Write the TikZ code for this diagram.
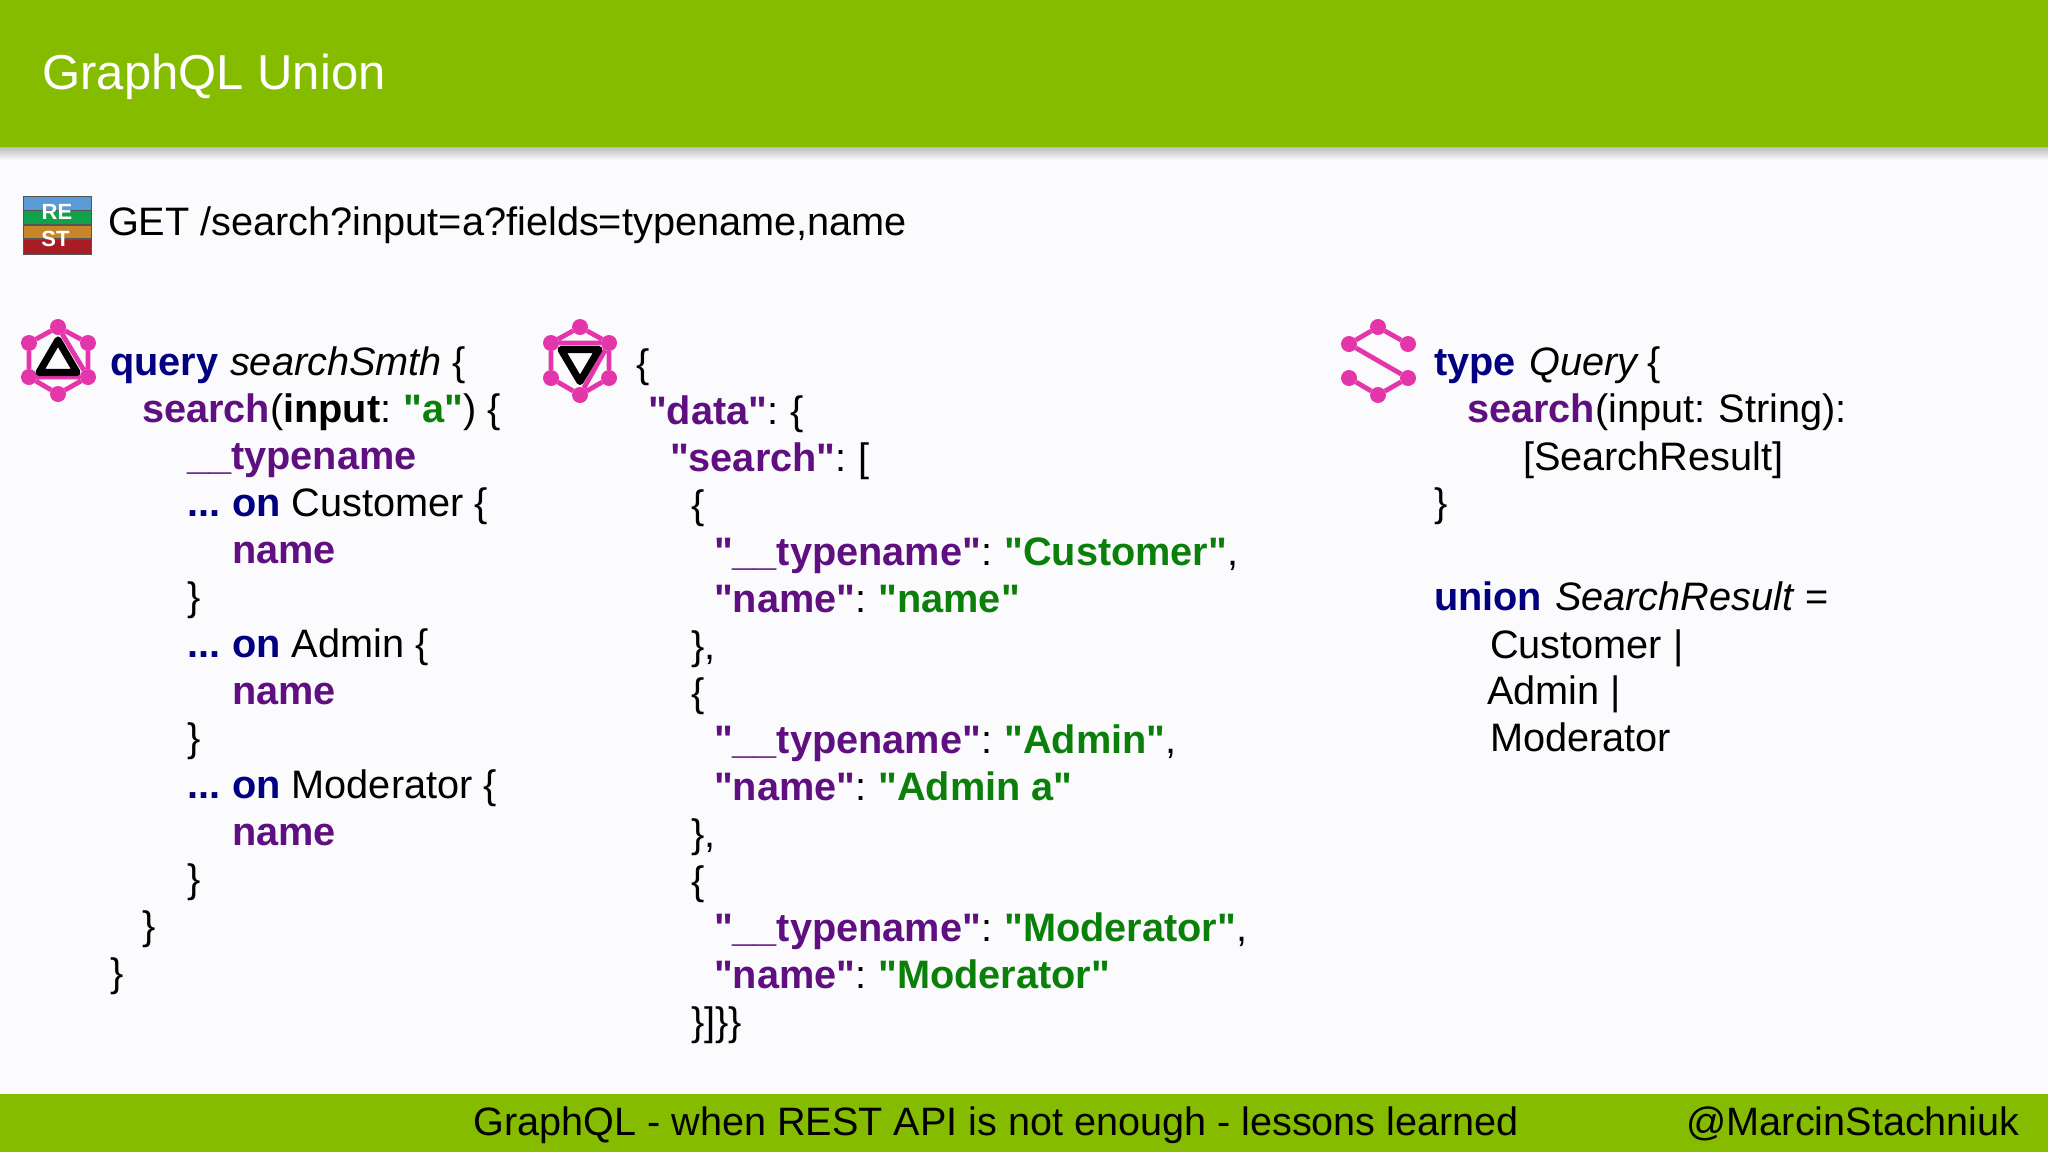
\documentclass[tikz,border=0pt]{standalone}
\usepackage{fontspec}
\newfontfamily\arialfont{Liberation Sans}
\definecolor{bar}{HTML}{86BC00}
\definecolor{paper}{HTML}{FBFBFD}
\definecolor{kw}{HTML}{000080}
\definecolor{fld}{HTML}{5F0F80}
\definecolor{str}{HTML}{0A800A}
\definecolor{gpink}{HTML}{E535AB}
\definecolor{rblue}{HTML}{5B9BD5}
\definecolor{rgreen}{HTML}{12A14B}
\definecolor{rorange}{HTML}{C8862A}
\definecolor{rred}{HTML}{A81C24}
\definecolor{rgray}{HTML}{555555}
\newcommand{\K}[1]{\textbf{\textcolor{kw}{#1}}}
\newcommand{\F}[1]{\textbf{\textcolor{fld}{#1}}}
\newcommand{\Sg}[1]{\textbf{\textcolor{str}{#1}}}
\newcommand{\B}[1]{\textbf{#1}}
\newcommand{\Dots}{\K{...\hspace{-1.3pt} on}}
\newcommand{\Cn}{:\hspace{-1.3pt} }
\newcommand{\cl}[4]{\node[codeline] (#1) at (#2,#3) {#4};}
\tikzset{
 codeline/.style={anchor=base west,inner sep=0pt,outer sep=0pt,font=\arialfont\fontsize{19.85pt}{22pt}\selectfont,text=black},
 gdot/.style={circle,fill=gpink,draw=none,minimum size=8pt,inner sep=0pt,outer sep=0pt},
 gedge/.style={draw=gpink,line width=2.4pt},
 blacktri/.style={draw=black,line width=3.6pt,line join=round,fill=none},
 restlabel/.style={inner sep=0pt,text=white,font=\arialfont\bfseries\fontsize{11pt}{12pt}\selectfont},
}
\begin{document}
\begin{tikzpicture}[x=0.5pt,y=-0.5pt]
\useasboundingbox (0,0) rectangle (2048,1152);
\fill[paper] (0,0) rectangle (2048,1152);
\shade[top color=black!28,bottom color=paper] (0,146) rectangle (2048,160);
\fill[bar] (0,0) rectangle (2048,147);
\fill[bar] (0,1094) rectangle (2048,1152);
\node[anchor=base west,inner sep=0pt,text=white,font=\arialfont\fontsize{24.5pt}{28pt}\selectfont] (title) at (42,89) {GraphQL Union};
\node[anchor=base west,inner sep=0pt,font=\arialfont\fontsize{19.8pt}{22pt}\selectfont] (foot) at (473,1135) {GraphQL - when REST API is not enough - lessons learned};
\node[anchor=base east,inner sep=0pt,font=\arialfont\fontsize{19.8pt}{22pt}\selectfont] (handle) at (2020,1135) {@MarcinStachniuk};
% REST icon
\fill[rgray] (23,196) rectangle (92,255);
\fill[rblue] (24,197) rectangle (91,210);
\fill[rgreen] (24,211) rectangle (91,224);
\fill[rorange] (24,226) rectangle (91,238);
\fill[rred] (24,240) rectangle (91,254);
\node[restlabel] (re) at (57,212) {RE};
\node[restlabel] (st) at (55.5,239) {ST};
\cl{get}{108}{235}{GET /search?input=a?fields=typename,name}
% icon 1
\foreach \n/\x/\y in {a/58/327,b/88/343,c/88/377,d/58/394,e/29/377,f/29/343}{\node[gdot] (q\n) at (\x,\y) {};}
\draw[gedge] (qa)--(qb)--(qc)--(qd)--(qe)--(qf)--(qa) (qa)--(qc)--(qe)--cycle;
\coordinate (qt1) at (58,340); \coordinate (qt2) at (77,372.5); \coordinate (qt3) at (39,372.5);
\draw[blacktri] (qt1)--(qt2)--(qt3)--cycle;
% icon 2
\foreach \n/\x/\y in {a/580/327,b/609/343,c/609/378,d/580/395,e/551/378,f/551/343}{\node[gdot] (r\n) at (\x,\y) {};}
\draw[gedge] (ra)--(rb)--(rc)--(rd)--(re)--(rf)--(ra) (rf)--(rb)--(rd)--cycle;
\coordinate (rt1) at (561,349.5); \coordinate (rt2) at (599,349.5); \coordinate (rt3) at (580,381.5);
\draw[blacktri] (rt1)--(rt2)--(rt3)--cycle;
% icon 3
\foreach \n/\x/\y in {a/1378/327,b/1408/344,c/1408/378,d/1378/395,e/1349/378,f/1349/344}{\node[gdot] (s\n) at (\x,\y) {};}
\draw[gedge] (sb)--(sa)--(sf)--(sc)--(sd)--(se);
% query
\cl{q1}{110}{375}{\K{query}\hspace{0.5pt} \textit{searchSmth} \{}
\cl{q2}{142}{422.5}{\F{search}(\B{input}\Cn\Sg{"a"}) \{}
\cl{q3}{187}{469.5}{\F{\_\_typename}}
\cl{q4}{187}{516.5}{\Dots{} Customer \{}
\cl{q5}{232}{563.5}{\F{name}}
\cl{q6}{187}{610.5}{\}}
\cl{q7}{187}{657.5}{\Dots{} Admin \{}
\cl{q8}{232}{704.5}{\F{name}}
\cl{q9}{187}{751.5}{\}}
\cl{q10}{187}{798.5}{\Dots{} Moderator \{}
\cl{q11}{232}{845.5}{\F{name}}
\cl{q12}{187}{892.5}{\}}
\cl{q13}{142}{939.5}{\}}
\cl{q14}{110}{986.5}{\}}
% response
\cl{d1}{636}{377}{\{}
\cl{d2}{648}{424}{\F{"data"}\Cn\{}
\cl{d3}{670}{471}{\F{"search"}\Cn[}
\cl{d4}{691}{518}{\{}
\cl{d5}{714}{565}{\F{"\_\_typename"}\Cn\Sg{"Customer"},}
\cl{d6}{714}{612}{\F{"name"}\Cn\Sg{"name"}}
\cl{d7}{691}{659}{\},}
\cl{d8}{691}{706}{\{}
\cl{d9}{714}{753}{\F{"\_\_typename"}\Cn\Sg{"Admin"},}
\cl{d10}{714}{800}{\F{"name"}\Cn\Sg{"Admin a"}}
\cl{d11}{691}{847}{\},}
\cl{d12}{691}{894}{\{}
\cl{d13}{714}{941}{\F{"\_\_typename"}\Cn\Sg{"Moderator"},}
\cl{d14}{714}{988}{\F{"name"}\Cn\Sg{"Moderator"}}
\cl{d15}{691}{1035}{\}]\}\}}
% schema
\cl{t1}{1434}{375}{\K{type}\hspace{1.5pt} \textit{Query}\hspace{-1.5pt} \{}
\cl{t2}{1467}{422.5}{\F{search}(input:\hspace{-0.6pt} String):}
\cl{t3}{1523}{470}{[SearchResult]}
\cl{t4}{1434}{516.5}{\}}
\cl{t5}{1434}{610.5}{\K{union}\hspace{1pt} \textit{SearchResult} =}
\cl{t6}{1490}{658}{Customer |}
\cl{t7}{1487}{704}{Admin |}
\cl{t8}{1490}{751}{Moderator}
\end{tikzpicture}
\end{document}
